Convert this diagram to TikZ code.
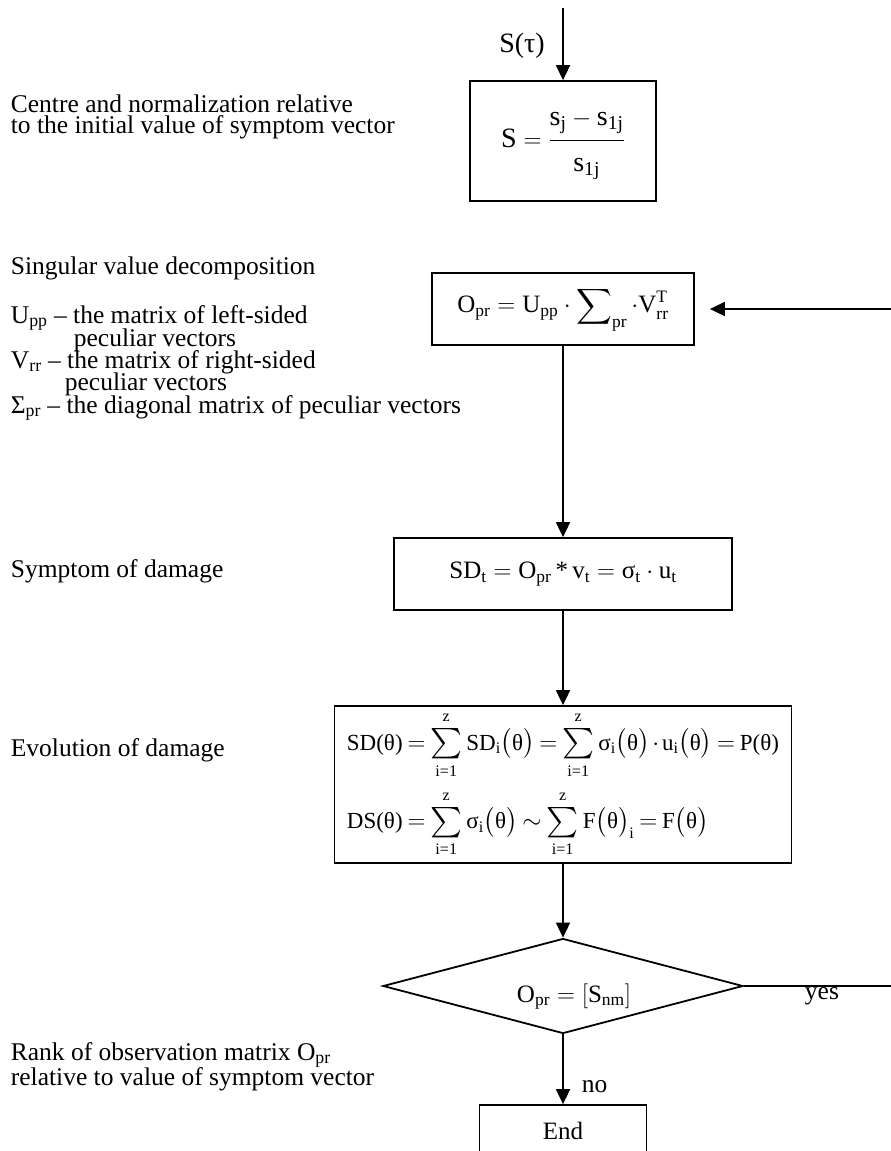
\documentclass[tikz,border=0pt]{standalone}
\usepackage{amsmath}
\usepackage{fontspec}
\setmainfont{Liberation Serif}
\usetikzlibrary{shapes.geometric}
\usetikzlibrary{arrows.meta}

\newcommand{\rt}[1]{\text{#1}}
\newcommand{\zsum}{\mathop{\vcenter{\hbox{\raisebox{0pt}[\dimexpr\height+2pt\relax][\dimexpr\depth+2pt\relax]{\scalebox{1.22}{$\textstyle\sum$}}}}}\limits}

\begin{document}
\begin{tikzpicture}[x=1pt, y=-1pt, line width=1.8pt,
    box/.style={draw, rectangle, inner sep=0pt},
    note/.style={anchor=base west, inner sep=0pt, font=\fontsize{25.5}{30}\selectfont},
    flow/.style={-{Triangle[length=15pt, width=14pt]}}]
            \useasboundingbox (0,0) rectangle (891,1151);
            \clip (0,0) rectangle (891,1151);

            % Nodes
            \coordinate (in) at (563,8);
            \node[inner sep=0pt, font=\fontsize{28}{30}\selectfont] (tau) at (522,46) {S(τ)};
            \node[box, minimum width=186pt, minimum height=120pt, font=\fontsize{28}{30}\selectfont] (norm) at (563,141)
                {\raisebox{-6pt}[0pt][0pt]{$\rt{S}=\dfrac{\rt{s}_{\rt{j}}-\rt{s}_{\rt{1j}}\rule[-12pt]{0pt}{0pt}}{\rule{0pt}{27pt}\rt{s}_{\rt{1j}}}$}};
            \node[box, minimum width=262pt, minimum height=72pt, font=\fontsize{25}{30}\selectfont] (svd) at (563,309)
                {$\rt{O}_{\rt{pr}}=\rt{U}_{\rt{pp}}\cdot\displaystyle\sum\nolimits_{\rt{pr}}\cdot\rt{V}_{\rt{rr}}^{\rt{T}}$};
            \node[box, minimum width=338pt, minimum height=72pt, font=\fontsize{25}{30}\selectfont] (sd) at (563,574)
                {$\rt{SD}_{\rt{t}}=\rt{O}_{\rt{pr}}\,\rt{*}\,\rt{v}_{\rt{t}}=\rt{σ}_{\rt{t}}\cdot\rt{u}_{\rt{t}}$};
            \node[box, minimum width=457pt, minimum height=157pt, font=\fontsize{23}{28}\selectfont] (evol) at (563,784.5)
                {\raisebox{-3pt}{$\thickmuskip=3.5mu\medmuskip=2mu\begin{aligned}
                &\rt{SD(θ)}=\zsum_{\rt{i=1}}^{\rt{z}}\rt{SD}_{\rt{i}}\bigl(\rt{θ}\bigr)=\zsum_{\rt{i=1}}^{\rt{z}}\rt{σ}_{\rt{i}}\bigl(\rt{θ}\bigr)\cdot\rt{u}_{\rt{i}}\bigl(\rt{θ}\bigr)=\rt{P(θ)}\\[8pt]
                &\rt{DS(θ)}=\zsum_{\rt{i=1}}^{\rt{z}}\rt{σ}_{\rt{i}}\bigl(\rt{θ}\bigr)\sim\zsum_{\rt{i=1}}^{\rt{z}}\rt{F}\bigl(\rt{θ}\bigr)_{\rt{i}}=\rt{F}\bigl(\rt{θ}\bigr)
                \end{aligned}$}};
            \node[diamond, draw, aspect=3.78, minimum width=360pt, minimum height=95pt, inner sep=0pt,
                font=\fontsize{25}{30}\selectfont] (dec) at (563,986)
                {\hspace*{22pt}\raisebox{-16pt}[0pt][0pt]{$\rt{O}_{\rt{pr}}=[\rt{S}_{\rt{nm}}]$}};
            \node[box, minimum width=167pt, minimum height=52pt, font=\fontsize{25}{30}\selectfont] (finish) at (563,1131) {End};
            \coordinate (back) at (900,986);

            % Notes on the left
            \node[note] (c1) at (10,112) {Centre and normalization relative};
            \node[note] (c2) at (10,133) {to the initial value of symptom vector};
            \node[note] (v1) at (10,274) {Singular value decomposition};
            \node[note] (v2) at (10,323) {U\textsubscript{pp} – the matrix of left-sided};
            \node[note] (v3) at (73,346) {peculiar vectors};
            \node[note] (v4) at (10,368) {V\textsubscript{rr} – the matrix of right-sided};
            \node[note] (v5) at (64,390) {peculiar vectors};
            \node[note] (v6) at (10,413) {Σ\textsubscript{pr} – the diagonal matrix of peculiar vectors};
            \node[note] (d1) at (10,577) {Symptom of damage};
            \node[note] (e1) at (10,756) {Evolution of damage};
            \node[note] (r1) at (10,1060) {Rank of observation matrix O\textsubscript{pr}};
            \node[note] (r2) at (10,1085) {relative to value of symptom vector};

            % Lines
            \draw[flow] (in) -- (norm.north);
            \draw[flow] (svd.south) -- (sd.north);
            \draw[flow] (sd.south) -- (evol.north);
            \draw[flow] (evol.south) -- (dec.north);
            \draw[flow] (dec.south) -- node[pos=0.75, right=18pt, inner sep=0pt, font=\fontsize{25.5}{30}\selectfont] (no) {no} (finish.north);
            \draw[flow, shorten >=15pt] (dec.east) -- node[below=1pt, inner sep=0pt, font=\fontsize{25.5}{30}\selectfont] (yes) {yes} (back) |- (svd.east);
        \end{tikzpicture}
\end{document}
